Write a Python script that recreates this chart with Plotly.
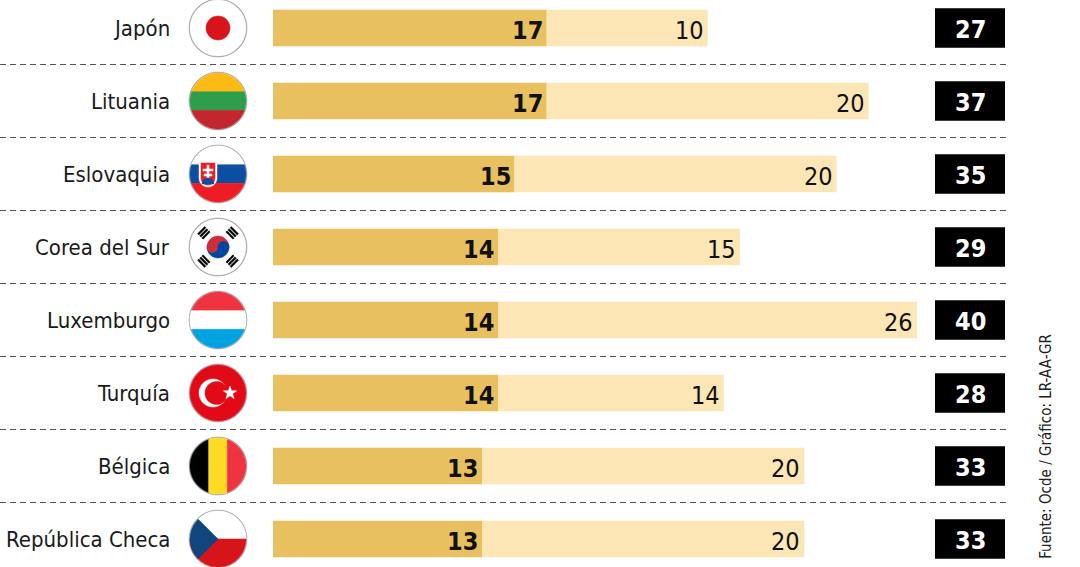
import math
import plotly.graph_objects as go

countries = ["Japón", "Lituania", "Eslovaquia", "Corea del Sur", "Luxemburgo", "Turquía", "Bélgica", "República Checa"]
part_a = [17, 17, 15, 14, 14, 14, 13, 13]
part_b = [10, 20, 20, 15, 26, 14, 20, 20]
totals = [27, 37, 35, 29, 40, 28, 33, 33]
source = "Fuente: Ocde / Gráfico: LR-AA-GR"

W, H = 1080, 567
X0, PXU = 273, 16.1
Y0, ROW = 28, 73
FONT = "DejaVu Sans Condensed, Liberation Sans Narrow, sans-serif"
DARK, LIGHT = "#E8C060", "#FDE6B5"

n = len(countries)
ys = list(range(n))
fig = go.Figure()
fig.add_trace(go.Bar(y=ys, x=part_a, orientation="h", marker=dict(color=DARK, line_width=0), width=0.5, hoverinfo="skip"))
fig.add_trace(go.Bar(y=ys, x=part_b, base=part_a, orientation="h", marker=dict(color=LIGHT, line_width=0), width=0.5, hoverinfo="skip"))

ann, shapes = [], []
FX = -55 / PXU

def circ_pts(r, a0, a1, cx=0, cy=0, k=40):
    return [(cx + r * math.cos(math.radians(a0 + (a1 - a0) * t / k)), cy + r * math.sin(math.radians(a0 + (a1 - a0) * t / k))) for t in range(k + 1)]

def path(pts):
    return "M " + " L ".join(f"{x:.2f},{y:.2f}" for x, y in pts) + " Z"

def pshape(i, pts, color):
    shapes.append(dict(type="path", xref="x", yref="y", xsizemode="pixel", ysizemode="pixel",
                       xanchor=FX, yanchor=i, path=path(pts), fillcolor=color,
                       line=dict(width=0.5, color=color), layer="above"))

def band(r, ytop, ybot):
    a_top = math.degrees(math.asin(max(-1, min(1, ytop / r))))
    a_bot = math.degrees(math.asin(max(-1, min(1, ybot / r))))
    return circ_pts(r, a_bot, a_top) + circ_pts(r, 180 - a_top, 180 - a_bot)

R = 28
def stripes(i, cols):
    h = 2 * R / len(cols)
    for j, c in enumerate(cols):
        pshape(i, band(R, R - j * h, R - (j + 1) * h), c)

def star(cx, cy, ro, ri):
    pts = []
    for t in range(10):
        a = math.radians(90 + 36 * t)
        r = ro if t % 2 == 0 else ri
        pts.append((cx + r * math.cos(a), cy + r * math.sin(a)))
    return pts

for i in range(n):
    pshape(i, circ_pts(R + 1, 0, 360), "#999999")
    pshape(i, circ_pts(R, 0, 360), "white")
    name = countries[i]
    if name == "Japón":
        pshape(i, circ_pts(12, 0, 360), "#D7141A")
    elif name == "Lituania":
        stripes(i, ["#FDB913", "#2E9E4A", "#C1272D"])
    elif name == "Eslovaquia":
        stripes(i, ["#FFFFFF", "#0B4EA2", "#EE1C25"])
        pshape(i, [(-19, 13), (-1, 13), (-1, -4)] + circ_pts(9, 0, -180, -10, -4) + [(-19, -4)], "white")
        pshape(i, [(-17, 11), (-3, 11), (-3, -4)] + circ_pts(7, 0, -180, -10, -4) + [(-17, -4)], "#EE1C25")
        pshape(i, [(-11, 9), (-9, 9), (-9, -8), (-11, -8)], "white")
        pshape(i, [(-15, 5), (-5, 5), (-5, 3), (-15, 3)], "white")
        pshape(i, [(-14, 0), (-6, 0), (-6, -2), (-14, -2)], "white")
        pshape(i, circ_pts(6, 0, 180, -10, -10), "#0B4EA2")
    elif name == "Corea del Sur":
        pshape(i, circ_pts(11, 0, 180), "#CD2E3A")
        pshape(i, circ_pts(11, 180, 360), "#0047A0")
        pshape(i, circ_pts(5.5, 0, 360, -5.5, 0), "#CD2E3A")
        pshape(i, circ_pts(5.5, 0, 360, 5.5, 0), "#0047A0")
        for ang in (45, 135, 225, 315):
            a = math.radians(ang)
            cx, cy = 20 * math.cos(a), 20 * math.sin(a)
            ux, uy = -math.sin(a), math.cos(a)
            vx, vy = math.cos(a), math.sin(a)
            for off in (-3, 0, 3):
                px, py = cx + vx * off, cy + vy * off
                pshape(i, [(px - ux * 5 - vx * 0.9, py - uy * 5 - vy * 0.9), (px + ux * 5 - vx * 0.9, py + uy * 5 - vy * 0.9),
                           (px + ux * 5 + vx * 0.9, py + uy * 5 + vy * 0.9), (px - ux * 5 + vx * 0.9, py - uy * 5 + vy * 0.9)], "black")
    elif name == "Luxemburgo":
        stripes(i, ["#EF3340", "#FFFFFF", "#00A3E0"])
    elif name == "Turquía":
        pshape(i, circ_pts(R, 0, 360), "#E30A17")
        pshape(i, circ_pts(14, 0, 360, -5, 0), "white")
        pshape(i, circ_pts(11.5, 0, 360, -1.5, 0), "#E30A17")
        pshape(i, star(12, 0, 7, 2.8), "white")
    elif name == "Bélgica":
        h = 2 * R / 3
        for j, c in enumerate(["#000000", "#FDDA24", "#EF3340"]):
            xl, xr = -R + j * h, -R + (j + 1) * h
            pshape(i, [(y, x) for (x, y) in band(R, xr, xl)], c)
    elif name == "República Checa":
        stripes(i, ["#FFFFFF", "#D7141A"])
        pshape(i, circ_pts(R, 135, 225) + [(0, 0)], "#11457E")

    ann.append(dict(xref="paper", yref="y", x=172 / W, y=i, xanchor="right", yanchor="middle", showarrow=False,
                    text=name, font=dict(family=FONT, size=22, color="#1a1a1a")))
    ann.append(dict(xref="x", yref="y", x=part_a[i], y=i, xanchor="right", yanchor="middle", showarrow=False,
                    xshift=-2, yshift=-2, text=f"<b>{part_a[i]}</b>", font=dict(family=FONT, size=25, color="#111")))
    ann.append(dict(xref="x", yref="y", x=totals[i], y=i, xanchor="right", yanchor="middle", showarrow=False,
                    xshift=-2, yshift=-2, text=f"{part_b[i]}", font=dict(family=FONT, size=25, color="#111")))
    shapes.append(dict(type="rect", xref="paper", yref="y", x0=935 / W, x1=1005 / W, y0=i - 0.27, y1=i + 0.27,
                       fillcolor="black", line_width=0))
    ann.append(dict(xref="paper", yref="y", x=970 / W, y=i, xanchor="center", yanchor="middle", showarrow=False,
                    yshift=-1, text=f"<b>{totals[i]}</b>", font=dict(family=FONT, size=25, color="white")))
    if i < n - 1:
        shapes.append(dict(type="line", xref="paper", yref="y", x0=0, x1=1010 / W, y0=i + 0.5, y1=i + 0.5,
                           line=dict(color="#555", width=1.2, dash="6px,4px")))

ann.append(dict(xref="paper", yref="paper", x=1046 / W, y=0.01, xanchor="center", yanchor="bottom", textangle=-90,
                showarrow=False, text=source, font=dict(family=FONT, size=15, color="#222")))

fig.update_layout(
    width=W, height=H, margin=dict(l=0, r=0, t=0, b=0), paper_bgcolor="white", plot_bgcolor="white",
    barmode="overlay", showlegend=False, annotations=ann, shapes=shapes,
    xaxis=dict(range=[-X0 / PXU, (W - X0) / PXU], visible=False, fixedrange=True),
    yaxis=dict(range=[(H - Y0) / ROW, -Y0 / ROW], visible=False, fixedrange=True),
)
fig.write_html("out.html", config={"displayModeBar": False},
               post_script="document.body.style.margin='0';document.body.style.overflow='hidden';")
